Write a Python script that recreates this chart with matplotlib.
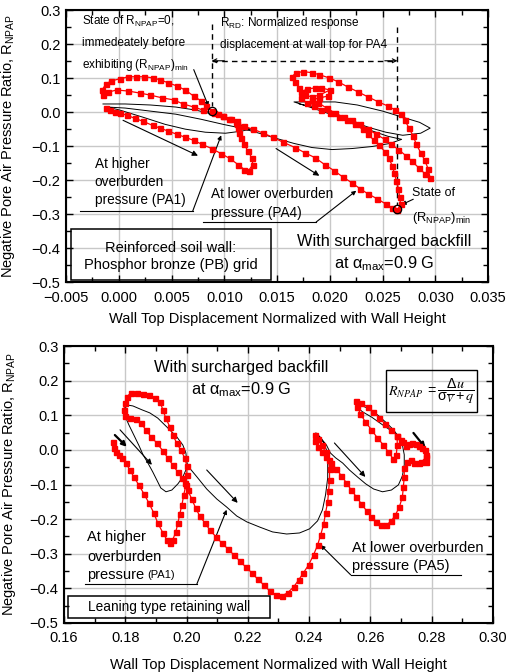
import matplotlib
matplotlib.use("Agg")
import matplotlib.pyplot as plt
from matplotlib.patches import Rectangle
from matplotlib.ticker import MultipleLocator, FuncFormatter

plt.rcParams['font.family'] = ['Liberation Sans', 'DejaVu Sans']
plt.rcParams['mathtext.fontset'] = 'custom'
plt.rcParams['mathtext.rm'] = 'Liberation Sans'
plt.rcParams['mathtext.it'] = 'Liberation Sans:italic'
plt.rcParams['mathtext.default'] = 'regular'

## top panel: reinforced soil wall, PA4 (red) and PA1 (black)
top_pa4_x = [-0.00124, -0.00086, -0.00038, 0.0001, 0.00077, 0.0015, 0.0023, 0.0032, 0.0039, 0.0047,
             0.0055, 0.0063, 0.0071, 0.0079, 0.0088, 0.0097, 0.0105, 0.0113, 0.0119, 0.0123,
             0.0127, 0.0126, 0.0122, 0.0119, 0.0116, 0.0114, 0.0113, 0.0112, 0.0112,
             0.0106, 0.0099, 0.009, 0.008, 0.0071, 0.0061, 0.0052, 0.0041, 0.003, 0.002, 0.0009, -0.0002, -0.001, -0.0015,
             -0.0016, -0.0012, -0.0007, 0.0001, 0.0009, 0.0016, 0.0024, 0.0032, 0.0039, 0.0047,
             0.0055, 0.0063, 0.0071, 0.0078, 0.0083, 0.0088, 0.0094, 0.0099, 0.0104, 0.0111,
             0.0119, 0.0127, 0.0137, 0.0146, 0.0156, 0.0167, 0.0176, 0.0186, 0.0195, 0.0204,
             0.0212, 0.0221, 0.0229, 0.0236, 0.0245, 0.0253, 0.0259, 0.0264,
             0.0267, 0.0266, 0.0265, 0.0263, 0.0261, 0.0259, 0.0256, 0.0252, 0.0247, 0.0242,
             0.0236, 0.0231, 0.0224, 0.0216, 0.0209,
             0.0200, 0.0192, 0.0185, 0.0178, 0.0173, 0.0173, 0.0178, 0.0186, 0.0192, 0.0200,
             0.0190, 0.0183, 0.0176, 0.0171, 0.0167, 0.0164,
             0.0168, 0.0175, 0.0183, 0.0190, 0.0199, 0.0208, 0.0217, 0.0227, 0.0236, 0.0246,
             0.0255, 0.0262, 0.0267, 0.0271, 0.0275, 0.0279, 0.0282, 0.0286, 0.0290, 0.0293, 0.0295,
             0.0290, 0.0284, 0.0278, 0.0272, 0.0265, 0.0258, 0.0252, 0.0244, 0.0236, 0.0229,
             0.0221, 0.0213, 0.0205, 0.0197, 0.0189, 0.0183, 0.0190, 0.0198]
top_pa4_y = [0.012, 0.006, 0.0, -0.003, -0.009, -0.018, -0.027, -0.039, -0.047, -0.056,
             -0.065, -0.074, -0.083, -0.095, -0.107, -0.122, -0.136, -0.154, -0.169, -0.172,
             -0.154, -0.134, -0.113, -0.095, -0.077, -0.062, -0.047, -0.036, -0.027,
             -0.021, -0.012, -0.003, 0.006, 0.015, 0.024, 0.036, 0.042, 0.050, 0.056, 0.062, 0.065, 0.059, 0.050,
             0.065, 0.083, 0.092, 0.098, 0.104, 0.104, 0.104, 0.101, 0.095, 0.086,
             0.077, 0.065, 0.047, 0.033, 0.018, 0.003, -0.006, -0.012, -0.021, -0.030,
             -0.042, -0.050, -0.062, -0.074, -0.089, -0.104, -0.119, -0.134, -0.154, -0.172,
             -0.190, -0.208, -0.226, -0.240, -0.255, -0.270, -0.282, -0.288,
             -0.270, -0.249, -0.226, -0.202, -0.178, -0.157, -0.136, -0.116, -0.098, -0.083,
             -0.065, -0.050, -0.036, -0.024, -0.015,
             -0.003, 0.006, 0.018, 0.027, 0.042, 0.059, 0.068, 0.071, 0.071, 0.065,
             0.050, 0.045, 0.050, 0.071, 0.089, 0.104,
             0.116, 0.119, 0.116, 0.110, 0.101, 0.089, 0.074, 0.059, 0.045, 0.030,
             0.018, 0.006, -0.006, -0.024, -0.047, -0.071, -0.095, -0.119, -0.142, -0.166, -0.193,
             -0.181, -0.163, -0.145, -0.128, -0.110, -0.095, -0.080, -0.065, -0.050, -0.036,
             -0.024, -0.015, -0.003, 0.012, 0.027, 0.036, 0.042, 0.047]

top_pa1_x = [-0.0015, 0.0006, 0.003, 0.0054, 0.0073, 0.0089, 0.0104, 0.0118, 0.0125, 0.0116,
             0.0101, 0.0082, 0.0063, 0.0044, 0.0023, 0.0001, -0.0011,
             0.0006, 0.003, 0.0054, 0.0078, 0.0099, 0.0116, 0.0133, 0.0149, 0.0166, 0.0183,
             0.0202, 0.0221, 0.024, 0.0257, 0.0268,
             0.0255, 0.0238, 0.0223, 0.0209, 0.0192, 0.0178, 0.0166,
             0.0183, 0.0205, 0.0226, 0.025, 0.0269, 0.0285, 0.0295,
             0.0286, 0.0269, 0.0253, 0.0237, 0.0221, 0.0205, 0.0188, 0.0171]
top_pa1_y = [0.024, 0.024, 0.021, 0.015, 0.006, -0.006, -0.024, -0.042, -0.050, -0.056,
             -0.062, -0.059, -0.050, -0.036, -0.015, 0.006, 0.015,
             0.012, 0.003, -0.006, -0.021, -0.036, -0.047, -0.062, -0.077, -0.092, -0.104,
             -0.110, -0.107, -0.101, -0.092, -0.080,
             -0.071, -0.053, -0.036, -0.015, 0.003, 0.018, 0.030,
             0.030, 0.030, 0.021, 0.003, -0.015, -0.030, -0.047,
             -0.062, -0.068, -0.059, -0.045, -0.027, -0.006, 0.012, 0.024]

## bottom panel: leaning type retaining wall, PA5 (red) and PA1 (black)
bot_pa5_x = [0.176, 0.1763, 0.177, 0.1779, 0.1789, 0.1802, 0.1815, 0.1828, 0.1844, 0.1861,
             0.1877, 0.1893, 0.1906, 0.1923, 0.1936, 0.1946, 0.1955, 0.1965, 0.1972, 0.1978,
             0.1985, 0.1991, 0.1998, 0.2001, 0.2001, 0.1994, 0.1981, 0.1968, 0.1955, 0.1946,
             0.1932, 0.1923, 0.1913, 0.1897, 0.1877, 0.1858, 0.1838, 0.1818, 0.1805, 0.1799,
             0.1796, 0.1799, 0.1815, 0.1835, 0.1851, 0.1867, 0.1884, 0.1903, 0.1923, 0.1939,
             0.1955, 0.1972, 0.1985, 0.1994,
             0.2004, 0.2017, 0.203, 0.2043, 0.206, 0.2076, 0.2096, 0.2115, 0.2135, 0.2154,
             0.2174, 0.2193, 0.2213, 0.2232, 0.2252, 0.2272, 0.2291, 0.2311, 0.233, 0.235,
             0.2366, 0.2382, 0.2399, 0.2415, 0.2428, 0.2438, 0.2448, 0.2454, 0.2461, 0.2464,
             0.2467, 0.2467, 0.2464, 0.2454, 0.2441, 0.2428, 0.2418,
             0.2421, 0.2428, 0.2441, 0.2457, 0.2473, 0.2489, 0.2506, 0.2522, 0.2538, 0.2555,
             0.2571, 0.2588, 0.2604, 0.262, 0.2636, 0.2653, 0.2669, 0.2682, 0.2695, 0.2705,
             0.2708, 0.2711, 0.2711,
             0.2721, 0.2744, 0.2767, 0.2783, 0.278, 0.276, 0.2737, 0.2718, 0.2702, 0.2688,
             0.2688, 0.2685, 0.2675, 0.2659, 0.2643, 0.2623, 0.2604, 0.2584, 0.2568, 0.2558,
             0.2555, 0.2571, 0.2591, 0.261, 0.263, 0.2649, 0.2669, 0.2688, 0.2708, 0.2727,
             0.275, 0.277, 0.2783, 0.2783, 0.276, 0.2734]
bot_pa5_y = [0.023, 0.006, -0.006, -0.014, -0.023, -0.038, -0.058, -0.078, -0.101, -0.127,
             -0.153, -0.182, -0.211, -0.240, -0.260, -0.269, -0.260, -0.237, -0.211, -0.185,
             -0.159, -0.130, -0.101, -0.072, -0.046, -0.023, 0.0, 0.020, 0.043, 0.066,
             0.092, 0.116, 0.139, 0.150, 0.159, 0.162, 0.165, 0.165, 0.153, 0.136,
             0.116, 0.098, 0.092, 0.090, 0.078, 0.058, 0.038, 0.020, -0.003, -0.023,
             -0.043, -0.064, -0.081, -0.095,
             -0.116, -0.142, -0.168, -0.191, -0.211, -0.231, -0.251, -0.269, -0.286, -0.303,
             -0.321, -0.338, -0.355, -0.373, -0.390, -0.408, -0.419, -0.422, -0.413, -0.396,
             -0.376, -0.355, -0.332, -0.303, -0.275, -0.246, -0.214, -0.182, -0.150, -0.118,
             -0.087, -0.055, -0.029, -0.006, 0.014, 0.032, 0.043,
             0.026, 0.009, -0.006, -0.020, -0.038, -0.055, -0.075, -0.095, -0.116, -0.136,
             -0.156, -0.176, -0.194, -0.208, -0.217, -0.217, -0.205, -0.188, -0.165, -0.136,
             -0.107, -0.078, -0.052,
             -0.035, -0.038, -0.035, -0.020, 0.0, 0.012, 0.020, 0.012, 0.029, 0.040,
             0.014, -0.014, -0.026, -0.006, 0.014, 0.035, 0.058, 0.081, 0.104, 0.124,
             0.142, 0.136, 0.124, 0.110, 0.092, 0.075, 0.058, 0.040, 0.023, 0.017,
             0.017, 0.006, -0.014, -0.035, -0.038, -0.029]

bot_pa1_x = [0.1998, 0.1988, 0.1972, 0.1952, 0.1933, 0.1916, 0.1903, 0.189, 0.1874, 0.1858,
             0.1845, 0.1828, 0.1812, 0.1802, 0.1796, 0.1805, 0.1825, 0.1854, 0.188, 0.1906,
             0.1936, 0.1968, 0.1988, 0.1998, 0.2001,
             0.2004, 0.2034, 0.2066, 0.2099, 0.2131, 0.2164, 0.2197, 0.2239, 0.2281, 0.2327,
             0.2369, 0.2402, 0.2428, 0.2444, 0.2454, 0.2461, 0.2461, 0.2457, 0.2448, 0.2435, 0.2422,
             0.2438, 0.2457, 0.247, 0.2487, 0.251, 0.2532, 0.2558, 0.2585, 0.2611, 0.264,
             0.2669, 0.2692, 0.2705, 0.2711, 0.2711, 0.2705, 0.2695, 0.2676, 0.2653, 0.2624,
             0.2591, 0.2565, 0.2555,
             0.2575, 0.2604, 0.2636, 0.2669, 0.2695, 0.2718, 0.274, 0.2764, 0.2777]
bot_pa1_y = [-0.058, -0.078, -0.098, -0.116, -0.121, -0.110, -0.087, -0.064, -0.038, -0.014,
             0.012, 0.043, 0.072, 0.092, 0.110, 0.130, 0.127, 0.116, 0.107, 0.092,
             0.066, 0.038, 0.014, -0.009, -0.035,
             -0.046, -0.078, -0.113, -0.142, -0.165, -0.191, -0.208, -0.223, -0.237, -0.243,
             -0.240, -0.228, -0.205, -0.173, -0.130, -0.081, -0.035, 0.0, 0.020, 0.038, 0.049,
             0.035, 0.014, -0.009, -0.023, -0.038, -0.058, -0.078, -0.098, -0.113, -0.121,
             -0.116, -0.101, -0.075, -0.043, -0.014, 0.014, 0.035, 0.058, 0.078, 0.101,
             0.121, 0.130, 0.124,
             0.110, 0.095, 0.075, 0.055, 0.038, 0.017, 0.009, 0.006, 0.014]

# marked states (top panel)
zero_state = (0.0088, 0.004)
min_state = (0.0264, -0.285)

RED = '#ff0000'


def minus(fmt):
    return FuncFormatter(lambda v, p: (fmt % v).replace('-', '\u2212'))


def setup(ax, xlim, ylim, xmaj, xmin, xfmt):
    ax.set_xlim(*xlim)
    ax.set_ylim(*ylim)
    ax.xaxis.set_major_locator(MultipleLocator(xmaj))
    ax.xaxis.set_minor_locator(MultipleLocator(xmin))
    ax.yaxis.set_major_locator(MultipleLocator(0.1))
    ax.yaxis.set_minor_locator(MultipleLocator(0.05))
    ax.xaxis.set_major_formatter(minus(xfmt))
    ax.yaxis.set_major_formatter(minus('%.1f'))
    ax.grid(True, which='major', color='#c8c8c8', lw=1.0)
    ax.set_axisbelow(True)
    ax.tick_params(which='both', direction='in', top=True, right=True, labelsize=10.5)
    ax.tick_params(axis='x', pad=6)
    ax.tick_params(axis='y', pad=4)
    ax.tick_params(which='major', length=5, width=1)
    ax.tick_params(which='minor', length=3.5, width=1)
    for s in ax.spines.values():
        s.set_linewidth(1.5)
    ax.set_xlabel('Wall Top Displacement Normalized with Wall Height', fontsize=10.5)
    ax.set_ylabel('Negative Pore Air Pressure Ratio, R$_{NPAP}$', fontsize=10.5)


def arrow(ax, tail, head, lw=0.8, ms=8):
    ax.annotate('', xy=head, xytext=tail,
                arrowprops=dict(arrowstyle='-|>', color='k', lw=lw, mutation_scale=ms,
                                shrinkA=0, shrinkB=0))


fig = plt.figure(figsize=(5.08, 6.72), dpi=100)

# ---------------- top panel ----------------
ax1 = fig.add_axes([0.130, 0.580, 0.831, 0.405])
setup(ax1, (-0.005, 0.035), (-0.5, 0.3), 0.005, 0.0025, '%.3f')
ax1.yaxis.set_label_coords(-0.115, 0.5)
ax1.xaxis.set_label_coords(0.5, -0.11)

ax1.plot(top_pa1_x, top_pa1_y, color='k', lw=0.7, zorder=3)
ax1.plot(top_pa4_x, top_pa4_y, color=RED, lw=0.9, marker='s', ms=3.6, mec=RED, mfc=RED, zorder=4)
ax1.plot(*zero_state, marker='o', ms=6, mfc='none', mec='k', mew=0.9, zorder=5)
ax1.plot(*min_state, marker='o', ms=6, mfc='none', mec='k', mew=0.9, zorder=5)

# response displacement bracket
ax1.plot([zero_state[0], zero_state[0]], [0.258, 0.018], 'k--', lw=1.0, dashes=(4, 3))
ax1.plot([min_state[0], min_state[0]], [0.25, -0.272], 'k--', lw=1.0, dashes=(4, 3))
ax1.plot([zero_state[0], min_state[0]], [0.151, 0.151], 'k--', lw=1.0, dashes=(4, 3))
ax1.annotate('', xy=(zero_state[0], 0.151), xytext=(zero_state[0] + 0.0012, 0.151),
             arrowprops=dict(arrowstyle='->', color='k', lw=0.8, mutation_scale=7, shrinkA=0, shrinkB=0))
ax1.annotate('', xy=(min_state[0], 0.151), xytext=(min_state[0] - 0.0012, 0.151),
             arrowprops=dict(arrowstyle='->', color='k', lw=0.8, mutation_scale=7, shrinkA=0, shrinkB=0))

fs_small = 8.5
ax1.text(-0.0035, 0.267, 'State of R$_{NPAP}$=0,', fontsize=fs_small, va='center')
ax1.text(-0.0035, 0.202, 'immedeately before', fontsize=fs_small, va='center')
ax1.text(-0.0035, 0.140, 'exhibiting (R$_{NPAP}$)$_{min}$', fontsize=fs_small, va='center')
arrow(ax1, (0.0071, 0.125), (0.0085, 0.017), ms=6)
ax1.text(0.0096, 0.262, 'R$_{RD}$: Normalized response', fontsize=fs_small, va='center')
ax1.text(0.0096, 0.196, 'displacement at wall top for PA4', fontsize=fs_small, va='center')

arrow(ax1, (0.0004, -0.024), (0.0075, -0.128))
arrow(ax1, (0.0149, -0.107), (0.0190, -0.187))

fs_lab = 9.8
ax1.text(-0.0023, -0.151, 'At higher', fontsize=fs_lab, va='center')
ax1.text(-0.0023, -0.205, 'overburden', fontsize=fs_lab, va='center')
ax1.text(-0.0023, -0.258, 'pressure (PA1)', fontsize=fs_lab, va='center')
ax1.plot([-0.0037, 0.0070], [-0.291, -0.291], color='k', lw=0.8)
arrow(ax1, (0.0070, -0.291), (0.0097, -0.068), ms=6)

ax1.text(0.0087, -0.240, 'At lower overburden', fontsize=fs_lab, va='center')
ax1.text(0.0087, -0.297, 'pressure (PA4)', fontsize=fs_lab, va='center')
ax1.plot([0.0080, 0.0187], [-0.323, -0.323], color='k', lw=0.8)
arrow(ax1, (0.0187, -0.323), (0.0225, -0.231), ms=6)

ax1.text(0.0278, -0.238, 'State of', fontsize=8.9, va='center')
ax1.text(0.0278, -0.312, '(R$_{NPAP}$)$_{min}$', fontsize=9.3, va='center')
arrow(ax1, (0.0279, -0.256), (0.0268, -0.272), ms=6)

ax1.text(0.0251, -0.380, 'With surcharged backfill', fontsize=11.8, ha='center', va='center')
ax1.text(0.0251, -0.445, r'at $\alpha_{max}$=0.9 G', fontsize=11.8, ha='center', va='center')

ax1.add_patch(Rectangle((-0.0045, -0.493), 0.0189, 0.149, fill=False, ec='k', lw=1.1, zorder=5))
ax1.text(0.00495, -0.400, 'Reinforced soil wall:', fontsize=10.5, ha='center', va='center')
ax1.text(0.00495, -0.450, 'Phosphor bronze (PB) grid', fontsize=10.5, ha='center', va='center')

# ---------------- bottom panel ----------------
ax2 = fig.add_axes([0.126, 0.073, 0.844, 0.412])
setup(ax2, (0.16, 0.30), (-0.5, 0.3), 0.02, 0.01, '%.2f')
ax2.yaxis.set_label_coords(-0.108, 0.5)
ax2.xaxis.set_label_coords(0.5, -0.125)

ax2.plot(bot_pa1_x, bot_pa1_y, color='k', lw=0.7, zorder=3)
ax2.plot(bot_pa5_x, bot_pa5_y, color=RED, lw=0.9, marker='s', ms=3.6, mec=RED, mfc=RED, zorder=4)

arrow(ax2, (0.1783, 0.058), (0.1887, -0.043))
arrow(ax2, (0.1766, 0.043), (0.1805, 0.009), lw=1.6, ms=7)
arrow(ax2, (0.2066, -0.058), (0.2167, -0.153))
arrow(ax2, (0.2483, 0.020), (0.2584, -0.078))
arrow(ax2, (0.2741, 0.049), (0.2780, 0.006), lw=1.6, ms=7)

ax2.text(0.2177, 0.237, 'With surcharged backfill', fontsize=11.8, ha='center', va='center')
ax2.text(0.2177, 0.173, r'at $\alpha_{max}$=0.9 G', fontsize=11.8, ha='center', va='center')

ax2.add_patch(Rectangle((0.2653, 0.110), 0.0294, 0.121, fill=False, ec='k', lw=1.0, zorder=5))
ax2.text(0.2800, 0.170,
         r'$\mathit{R}_{\mathit{NPAP}}\ =\dfrac{\Delta \mathit{u}}{\sigma_{\overline{\mathit{V}}}+\mathit{q}}$',
         fontsize=10.2, ha='center', va='center', math_fontfamily='stix', zorder=6)

fs_lab2 = 10.5
ax2.text(0.1675, -0.251, 'At higher', fontsize=fs_lab2, va='center')
ax2.text(0.1675, -0.309, 'overburden', fontsize=fs_lab2, va='center')
ax2.text(0.1675, -0.361, 'pressure', fontsize=fs_lab2, va='center')
ax2.text(0.1871, -0.361, '(PA1)', fontsize=8, va='center')
ax2.plot([0.1668, 0.2034], [-0.387, -0.387], color='k', lw=0.8)
arrow(ax2, (0.2034, -0.387), (0.2131, -0.173), ms=6)

ax2.text(0.2542, -0.283, 'At lower overburden', fontsize=fs_lab2, va='center')
ax2.text(0.2542, -0.335, 'pressure (PA5)', fontsize=fs_lab2, va='center')
ax2.plot([0.2536, 0.2897], [-0.361, -0.361], color='k', lw=0.8)
arrow(ax2, (0.2536, -0.361), (0.2438, -0.275), ms=6)

ax2.add_patch(Rectangle((0.1613, -0.486), 0.0658, 0.064, fill=False, ec='k', lw=1.1, zorder=5))
ax2.text(0.1942, -0.454, 'Leaning type retaining wall', fontsize=9.8, ha='center', va='center')

fig.savefig('out.png', dpi=100)
